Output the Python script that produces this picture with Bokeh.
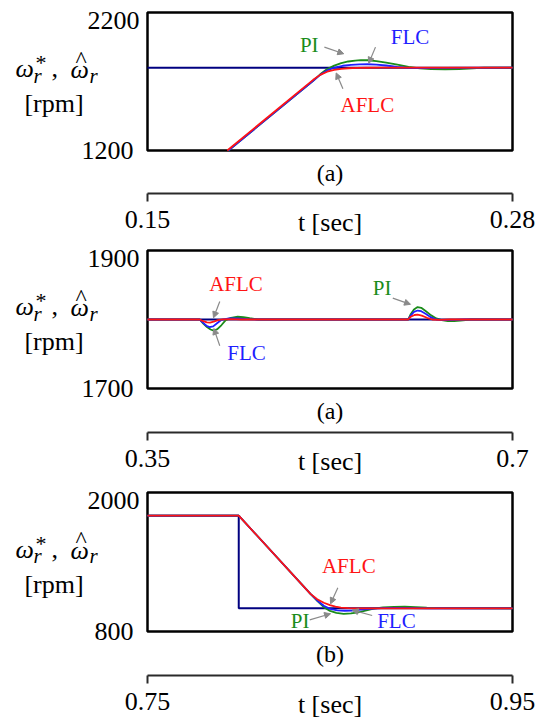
from bokeh.plotting import figure
from bokeh.models import Range1d, LinearAxis, FixedTicker, Label, Arrow, NormalHead
from bokeh.layouts import column
from bokeh.embed import file_html
from bokeh.resources import INLINE

SERIF = "Liberation Serif"
C_REF = "#000080"
C_PI = "#1a8c1a"
C_FLC = "#1f1fff"
C_AFLC = "#ff1414"
C_ARROW = "#8a8a8a"

# ---------------- panel 1: speed-up to 1800 rpm ----------------
p1_t_ticks = [0.15, 0.28]
p1_t_labels = ["0.15", "0.28"]
p1_w_ticks = [1200, 2200]
p1_w_labels = ["1200", "2200"]

p1_ref_t = [0.15, 0.28]
p1_ref_w = [1800, 1800]

p1_pi_t = [0.1788, 0.2090, 0.2115, 0.2140, 0.2165, 0.2190, 0.2215, 0.2240, 0.2260,
           0.2285, 0.2315, 0.2350, 0.2390, 0.2430, 0.2470, 0.2510, 0.2560, 0.2610,
           0.2660, 0.2700, 0.2800]
p1_pi_w = [1200, 1705, 1752, 1790, 1815, 1833, 1845, 1852, 1855,
           1854, 1848, 1837, 1822, 1806, 1795, 1790, 1788, 1790,
           1796, 1800, 1800]

p1_flc_t = [0.1788, 0.2090, 0.2115, 0.2140, 0.2165, 0.2195, 0.2225, 0.2255, 0.2285,
            0.2315, 0.2350, 0.2390, 0.2430, 0.2480, 0.2550, 0.2800]
p1_flc_w = [1200, 1705, 1748, 1780, 1800, 1814, 1821, 1824, 1825,
            1823, 1816, 1806, 1799, 1797, 1799, 1800]

p1_aflc_t = [0.1784, 0.2090, 0.2115, 0.2140, 0.2165, 0.2190, 0.2215, 0.2245, 0.2280,
             0.2330, 0.2800]
p1_aflc_w = [1200, 1712, 1748, 1771, 1785, 1792, 1796, 1798.5, 1799.5,
             1800, 1800]

# ---------------- panel 2: load disturbance at 1800 rpm ----------------
p2_t_ticks = [0.35, 0.7]
p2_t_labels = ["0.35", "0.7"]
p2_w_ticks = [1700, 1900]
p2_w_labels = ["1700", "1900"]

p2_ref_t = [0.35, 0.7]
p2_ref_w = [1800, 1800]

p2_pi_t = [0.35, 0.400, 0.4035, 0.407, 0.4105, 0.4135, 0.417, 0.421, 0.425, 0.430,
           0.4365, 0.442, 0.448, 0.4565, 0.600, 0.6025, 0.6055, 0.609, 0.6125,
           0.617, 0.622, 0.627, 0.632, 0.638, 0.644, 0.650, 0.660, 0.7]
p2_pi_w = [1800, 1800, 1794, 1789, 1785.5, 1784, 1786, 1792, 1799, 1802.5,
           1804, 1803.5, 1802, 1800, 1800, 1808, 1814.5, 1818, 1817,
           1812, 1806, 1801.5, 1799, 1797.8, 1797.5, 1798.5, 1800, 1800]

p2_flc_t = [0.35, 0.400, 0.4035, 0.4065, 0.4095, 0.413, 0.417, 0.421, 0.428, 0.436,
            0.445, 0.455, 0.600, 0.6025, 0.6055, 0.609, 0.6125, 0.617, 0.622,
            0.627, 0.635, 0.645, 0.655, 0.7]
p2_flc_w = [1800, 1800, 1795, 1791, 1789, 1790, 1795, 1799.5, 1801.5, 1801.5,
            1800.5, 1800, 1800, 1806, 1811, 1813, 1812, 1808, 1803,
            1800, 1799.2, 1799.5, 1800, 1800]

p2_aflc_t = [0.35, 0.400, 0.4035, 0.407, 0.410, 0.4135, 0.4175, 0.422, 0.430, 0.440,
             0.600, 0.6025, 0.606, 0.609, 0.613, 0.618, 0.623, 0.630, 0.640, 0.7]
p2_aflc_w = [1800, 1800, 1797.5, 1795.7, 1795.5, 1796.8, 1799, 1800.3, 1800.5, 1800,
             1800, 1804, 1806.5, 1807, 1805.5, 1802.5, 1800, 1799.6, 1800, 1800]

# ---------------- panel 3: speed reversal 1800 -> 1000 rpm ----------------
p3_t_ticks = [0.75, 0.95]
p3_t_labels = ["0.75", "0.95"]
p3_w_ticks = [800, 2000]
p3_w_labels = ["800", "2000"]

p3_ref_t = [0.75, 0.80, 0.80, 0.95]
p3_ref_w = [1800, 1800, 1000, 1000]

p3_pi_t = [0.75, 0.80, 0.8393, 0.8430, 0.8466, 0.8500, 0.8535, 0.8575, 0.8615,
           0.8655, 0.8700, 0.8740, 0.8790, 0.8850, 0.8910, 0.8970, 0.9030, 0.9080, 0.95]
p3_pi_w = [1800, 1800, 1125, 1064, 1010, 978, 961, 953, 956,
           966, 983, 998, 1008, 1013, 1014, 1011, 1005, 1001, 1000]

p3_flc_t = [0.75, 0.80, 0.8393, 0.8430, 0.8466, 0.8500, 0.8540, 0.8580, 0.8620,
            0.8670, 0.8720, 0.8780, 0.8850, 0.8950, 0.9050, 0.95]
p3_flc_w = [1800, 1800, 1125, 1068, 1022, 995, 982, 979, 981,
            988, 996, 1002, 1004, 1002, 1000, 1000]

p3_aflc_t = [0.75, 0.80, 0.8393, 0.8430, 0.8466, 0.8500, 0.8530, 0.8560, 0.8600,
             0.8650, 0.95]
p3_aflc_w = [1800, 1800, 1125, 1079, 1048, 1027, 1014, 1006, 1001.5,
             1000, 1000]

# page geometry (pixels)
FIG_W = 552
BOX_L = 147           # left edge of the plotting box
BOX_W = 365           # width of the plotting box
NUDGE = 7             # lift for alphabetic-baseline text


def text(fig, txt, x, y, size, style="normal", align="left", color="black",
         xu="screen", yu="screen", dx=0, dy=0):
    fig.add_layout(Label(x=x, y=y, x_units=xu, y_units=yu, text=txt,
                         text_font=SERIF, text_font_size=size, text_font_style=style,
                         text_color=color, text_align=align, text_baseline="alphabetic",
                         x_offset=dx, y_offset=NUDGE + dy))


def speed_label(p, c):
    """Compose  w_r*, w^_r  over  [rpm]  left of the box; c = box centre height."""
    text(p, "\u03c9", 15, c + 6, "26px", "italic")
    text(p, "r", 33, c - 1, "21px", "italic")
    text(p, "*", 35, c + 12, "22px")
    text(p, ",", 51, c + 6, "26px")
    text(p, "\u03c9", 70, c + 5, "26px", "italic")
    text(p, "^", 75, c + 16, "24px")
    text(p, "r", 89, c - 1, "21px", "italic")
    text(p, "[rpm]", 53.5, c - 29, "26px", align="center")


def speed_panel(t_ticks, t_labels, w_ticks, w_labels, fig_h, box_top, box_h, axis_gap,
                tag, ref, pi, flc, aflc, notes, arrows):
    t0, t1 = t_ticks[0], t_ticks[-1]
    w0, w1 = w_ticks[0], w_ticks[-1]
    kx = (t1 - t0) / BOX_W
    ky = (w1 - w0) / box_h
    below = fig_h - box_top - box_h
    p = figure(width=FIG_W, height=fig_h,
               x_range=Range1d(t0 - BOX_L * kx, t1 + (FIG_W - BOX_L - BOX_W) * kx),
               y_range=Range1d(w0 - below * ky, w1 + box_top * ky),
               min_border=0, min_border_left=0, min_border_right=0,
               min_border_top=0, min_border_bottom=0,
               x_axis_location=None, y_axis_location=None,
               toolbar_location=None, output_backend="svg", title=None)
    p.grid.visible = False
    p.outline_line_color = None
    p.background_fill_color = "white"
    p.border_fill_color = "white"

    # plotting box
    p.quad(left=[t0], right=[t1], bottom=[w0], top=[w1], fill_color=None,
           line_color="black", line_width=2.5)

    # rpm scale: lower label centred on its tick by the axis ...
    yax = LinearAxis(ticker=FixedTicker(ticks=[w0]), fixed_location=t0,
                     major_label_overrides={w0: w_labels[0]})
    yax.axis_line_color = None
    yax.major_tick_line_color = None
    yax.minor_tick_line_color = None
    yax.major_label_standoff = 8
    yax.major_label_text_font = SERIF
    yax.major_label_text_font_size = "26px"
    yax.major_label_text_color = "black"
    p.add_layout(yax, "left")
    # ... upper label hanging just below the top edge of the box
    text(p, w_labels[-1], t0, w1, "26px", align="right", xu="data", yu="data",
         dx=-8, dy=-15)

    # detached time axis under the box
    t_loc = w0 - axis_gap * ky
    tax = LinearAxis(ticker=FixedTicker(ticks=t_ticks), fixed_location=t_loc,
                     bounds=(t0, t1),
                     major_label_overrides=dict(zip(t_ticks, t_labels)))
    tax.axis_line_color = "#2a2a2a"
    tax.axis_line_width = 2
    tax.major_tick_line_color = "#2a2a2a"
    tax.major_tick_line_width = 2
    tax.major_tick_in = 0
    tax.major_tick_out = 8
    tax.minor_tick_line_color = None
    tax.major_label_standoff = 9
    tax.major_label_text_font = SERIF
    tax.major_label_text_font_size = "26px"
    tax.major_label_text_color = "black"
    p.add_layout(tax, "below")
    text(p, "t [sec]", (t0 + t1) / 2, t_loc, "26px", align="center",
         xu="data", yu="data", dy=-36)
    text(p, tag, (t0 + t1) / 2, w0, "24px", align="center", xu="data", yu="data", dy=-29)

    p.line(ref[0], ref[1], line_color=C_REF, line_width=2)
    p.line(pi[0], pi[1], line_color=C_PI, line_width=1.8)
    p.line(flc[0], flc[1], line_color=C_FLC, line_width=1.8)
    p.line(aflc[0], aflc[1], line_color=C_AFLC, line_width=1.8)

    for txt, color, x, y in notes:
        text(p, txt, x, y, "21px", align="center", color=color, xu="data", yu="data")
    for x0, y0, x1, y1 in arrows:
        p.add_layout(Arrow(x_start=x0, y_start=y0, x_end=x1, y_end=y1,
                           line_color=C_ARROW, line_width=1.2,
                           end=NormalHead(size=6, fill_color=C_ARROW,
                                          line_color=C_ARROW, line_width=1)))

    speed_label(p, fig_h - box_top - box_h / 2.0)
    return p


p1 = speed_panel(
    p1_t_ticks, p1_t_labels, p1_w_ticks, p1_w_labels, 240, 12, 138, 43, "(a)",
    (p1_ref_t, p1_ref_w), (p1_pi_t, p1_pi_w), (p1_flc_t, p1_flc_w), (p1_aflc_t, p1_aflc_w),
    [("PI", C_PI, 0.2076, 1912), ("FLC", C_FLC, 0.2435, 1973), ("AFLC", C_AFLC, 0.2283, 1477)],
    [(0.2130, 1949, 0.2199, 1901), (0.2312, 1949, 0.2288, 1832), (0.2196, 1647, 0.2172, 1762)])

p2 = speed_panel(
    p2_t_ticks, p2_t_labels, p2_w_ticks, p2_w_labels, 240, 10, 138, 44, "(a)",
    (p2_ref_t, p2_ref_w), (p2_pi_t, p2_pi_w), (p2_flc_t, p2_flc_w), (p2_aflc_t, p2_aflc_w),
    [("AFLC", C_AFLC, 0.4349, 1841), ("FLC", C_FLC, 0.4449, 1742), ("PI", C_PI, 0.5750, 1836)],
    [(0.4193, 1826, 0.4133, 1802.5), (0.4193, 1762, 0.4136, 1787), (0.5852, 1831, 0.6022, 1822)])

p3 = speed_panel(
    p3_t_ticks, p3_t_labels, p3_w_ticks, p3_w_labels, 241, 12, 139, 44, "(b)",
    (p3_ref_t, p3_ref_w), (p3_pi_t, p3_pi_w), (p3_flc_t, p3_flc_w), (p3_aflc_t, p3_aflc_w),
    [("AFLC", C_AFLC, 0.8603, 1309), ("PI", C_PI, 0.8336, 826), ("FLC", C_FLC, 0.8864, 826)],
    [(0.8543, 1177, 0.8503, 1039), (0.8389, 901, 0.8503, 953), (0.8731, 938, 0.8622, 985)])

layout = column(p1, p2, p3, spacing=0)

with open("out.html", "w") as f:
    f.write(file_html(layout, INLINE))
